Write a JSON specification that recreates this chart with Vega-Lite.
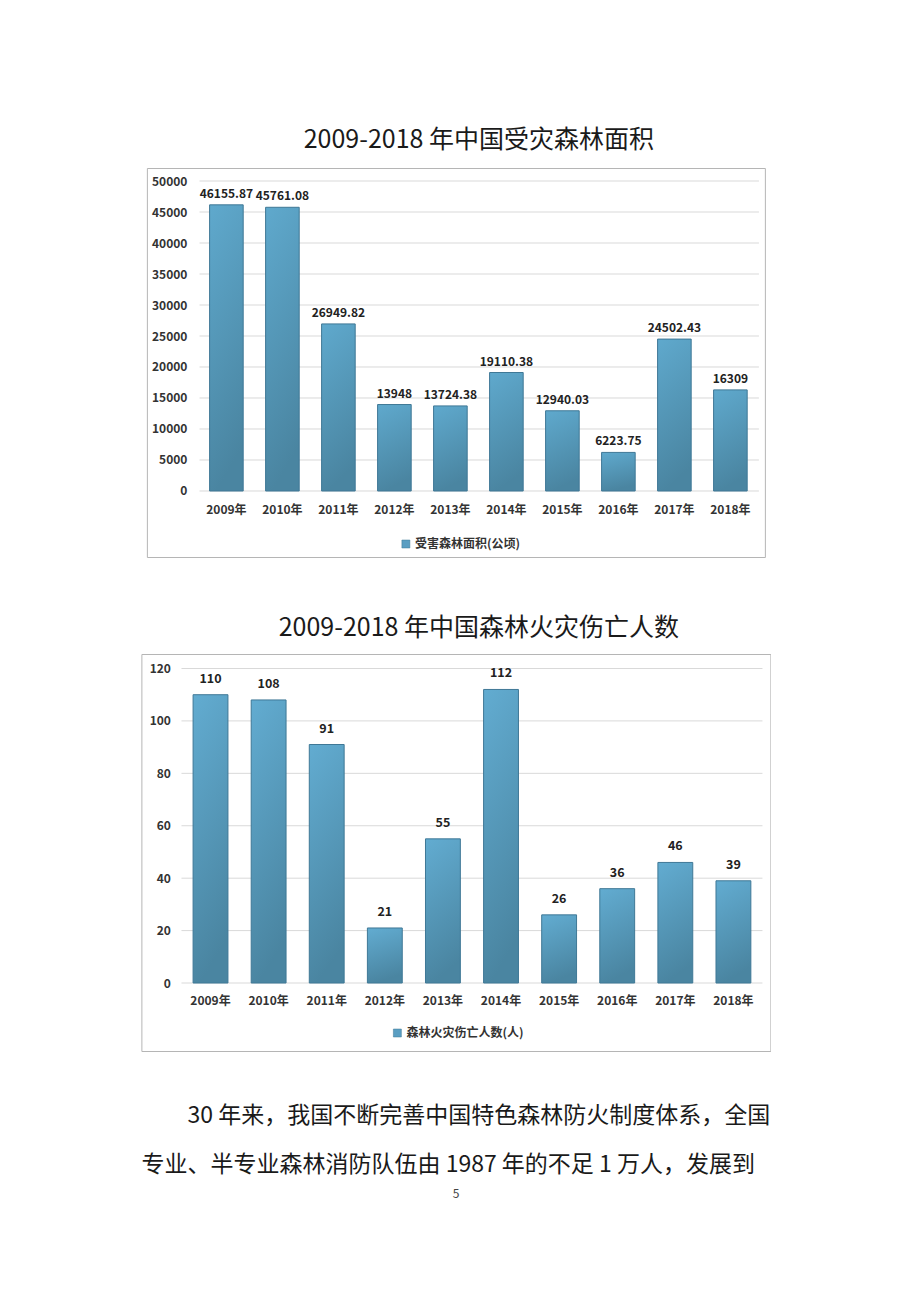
{
  "$schema": "https://vega.github.io/schema/vega-lite/v6.json",
  "background": "white",
  "padding": {"left": 140, "top": 127, "right": 0, "bottom": 0},
  "config": {
    "font": "Noto Sans CJK SC",
    "view": {"stroke": "#b5b5b5", "strokeWidth": 1},
    "title": {"font": "Noto Sans CJK SC", "fontSize": 25, "fontWeight": "normal", "color": "#1a1a1a", "dx": 23, "offset": 15},
    "axis": {"labelFont": "Noto Sans CJK SC", "labelFontSize": 12, "labelFontWeight": "bold", "labelColor": "#333333", "domain": false, "ticks": false, "grid": false, "title": null, "labelOverlap": false},
    "legend": {"labelFont": "Noto Sans CJK SC", "labelFontSize": 12, "labelFontWeight": "bold", "labelColor": "#333333"}
  },
  "resolve": {"scale": {"color": "independent"}, "legend": {"color": "independent"}},
  "vconcat": [
    {
      "resolve": {"scale": {"color": "independent"}, "legend": {"color": "independent"}},
      "spacing": 57,
      "center": true,
      "vconcat": [
        {
          "title": {"text": "2009-2018 年中国受灾森林面积"},
          "width": 618,
          "height": 389,
          "data": {"values": [
            {"year": "2009年", "area": 46155.87},
            {"year": "2010年", "area": 45761.08},
            {"year": "2011年", "area": 26949.82},
            {"year": "2012年", "area": 13948},
            {"year": "2013年", "area": 13724.38},
            {"year": "2014年", "area": 19110.38},
            {"year": "2015年", "area": 12940.03},
            {"year": "2016年", "area": 6223.75},
            {"year": "2017年", "area": 24502.43},
            {"year": "2018年", "area": 16309}
          ]},
          "layer": [
            {
              "data": {"values": [{"v": 0}, {"v": 5000}, {"v": 10000}, {"v": 15000}, {"v": 20000}, {"v": 25000}, {"v": 30000}, {"v": 35000}, {"v": 40000}, {"v": 45000}, {"v": 50000}]},
              "mark": {"type": "rule", "color": "#d9d9d9", "strokeWidth": 1},
              "encoding": {
                "y": {"field": "v", "type": "quantitative",
                      "scale": {"domain": [-10645.2, 52096.8], "nice": false, "zero": false},
                      "axis": {"values": [0, 5000, 10000, 15000, 20000, 25000, 30000, 35000, 40000, 45000, 50000], "format": "d", "offset": -40, "labelPadding": 0, "labelOverlap": false, "labelSeparation": 0, "labelFlush": false}},
                "x": {"datum": "2009年", "type": "nominal", "bandPosition": -0.3,
                      "scale": {"domain": ["2009年", "2010年", "2011年", "2012年", "2013年", "2014年", "2015年", "2016年", "2017年", "2018年"], "paddingInner": 0.4, "paddingOuter": 0.718, "align": 0.78},
                      "axis": {"offset": -66, "labelPadding": 13, "labelAngle": 0}},
                "x2": {"datum": "2018年", "bandPosition": 1.35}
              }
            },
            {
              "mark": {"type": "bar", "stroke": "#3f7896", "strokeWidth": 1,
                       "fill": {"gradient": "linear", "x1": 0, "y1": 0, "x2": 0.2, "y2": 1, "stops": [{"offset": 0, "color": "#5fa9cd"}, {"offset": 1, "color": "#4a85a1"}]}},
              "encoding": {
                "x": {"field": "year", "type": "nominal", "sort": null},
                "y": {"field": "area", "type": "quantitative", "axis": {"values": [0, 5000, 10000, 15000, 20000, 25000, 30000, 35000, 40000, 45000, 50000], "format": "d", "offset": -40, "labelPadding": 0, "labelOverlap": false, "labelSeparation": 0, "labelFlush": false}}
              }
            },
            {
              "mark": {"type": "text", "baseline": "bottom", "dy": -4, "fontSize": 12, "fontWeight": "bold", "color": "#222222"},
              "encoding": {
                "x": {"field": "year", "type": "nominal", "sort": null},
                "y": {"field": "area", "type": "quantitative", "axis": {"values": [0, 5000, 10000, 15000, 20000, 25000, 30000, 35000, 40000, 45000, 50000], "format": "d", "offset": -40, "labelPadding": 0, "labelOverlap": false, "labelSeparation": 0, "labelFlush": false}},
                "text": {"field": "area", "type": "quantitative"}
              }
            },
            {
              "data": {"values": []},
              "mark": {"type": "square"},
              "encoding": {
                "color": {"datum": "受害森林面积(公顷)", "type": "nominal",
                          "scale": {"range": ["#5a9ec2"]},
                          "legend": {"orient": "none", "legendX": 253, "legendY": 370, "title": null, "symbolType": "square", "symbolSize": 64, "symbolOpacity": 1, "symbolStrokeColor": "#3f7896", "symbolStrokeWidth": 0.5, "labelOffset": 3}}
              }
            }
          ]
        },
        {
          "title": {"text": "2009-2018 年中国森林火灾伤亡人数", "offset": 13},
          "width": 629,
          "height": 397,
          "data": {"values": [
            {"year": "2009年", "people": 110},
            {"year": "2010年", "people": 108},
            {"year": "2011年", "people": 91},
            {"year": "2012年", "people": 21},
            {"year": "2013年", "people": 55},
            {"year": "2014年", "people": 112},
            {"year": "2015年", "people": 26},
            {"year": "2016年", "people": 36},
            {"year": "2017年", "people": 46},
            {"year": "2018年", "people": 39}
          ]},
          "layer": [
            {
              "data": {"values": [{"v": 0}, {"v": 20}, {"v": 40}, {"v": 60}, {"v": 80}, {"v": 100}, {"v": 120}]},
              "mark": {"type": "rule", "color": "#d9d9d9", "strokeWidth": 1},
              "encoding": {
                "y": {"field": "v", "type": "quantitative",
                      "scale": {"domain": [-25.94, 125.53], "nice": false, "zero": false},
                      "axis": {"values": [0, 20, 40, 60, 80, 100, 120], "format": "d", "offset": -29, "labelPadding": 0}},
                "x": {"datum": "2009年", "type": "nominal", "bandPosition": -0.333,
                      "scale": {"domain": ["2009年", "2010年", "2011年", "2012年", "2013年", "2014年", "2015年", "2016年", "2017年", "2018年"], "paddingInner": 0.4, "paddingOuter": 0.613, "align": 0.726},
                      "axis": {"offset": -68, "labelPadding": 12, "labelAngle": 0}},
                "x2": {"datum": "2018年", "bandPosition": 1.333}
              }
            },
            {
              "mark": {"type": "bar", "stroke": "#3f7896", "strokeWidth": 1,
                       "fill": {"gradient": "linear", "x1": 0, "y1": 0, "x2": 0.2, "y2": 1, "stops": [{"offset": 0, "color": "#62acd1"}, {"offset": 1, "color": "#4a85a1"}]}},
              "encoding": {
                "x": {"field": "year", "type": "nominal", "sort": null},
                "y": {"field": "people", "type": "quantitative"}
              }
            },
            {
              "mark": {"type": "text", "baseline": "bottom", "dy": -9, "fontSize": 12.5, "fontWeight": "bold", "color": "#222222"},
              "encoding": {
                "x": {"field": "year", "type": "nominal", "sort": null},
                "y": {"field": "people", "type": "quantitative"},
                "text": {"field": "people", "type": "quantitative"}
              }
            },
            {
              "data": {"values": []},
              "mark": {"type": "square"},
              "encoding": {
                "color": {"datum": "森林火灾伤亡人数(人)", "type": "nominal",
                          "scale": {"range": ["#5a9ec2"]},
                          "legend": {"orient": "none", "legendX": 250, "legendY": 373, "title": null, "symbolType": "square", "symbolSize": 64, "symbolOpacity": 1, "symbolStrokeColor": "#3f7896", "symbolStrokeWidth": 0.5, "labelOffset": 3}}
              }
            }
          ]
        }
      ]
    },
    {
      "title": {"text": ["\u200b\u3000\u300030 年来，我国不断完善中国特色森林防火制度体系，全国", "专业、半专业森林消防队伍由 1987 年的不足 1 万人，发展到"], "anchor": "start", "dx": 0, "fontSize": 23, "lineHeight": 49, "offset": 9, "color": "#1a1a1a"},
      "width": 629,
      "height": 16,
      "view": {"stroke": null},
      "data": {"values": [{"page": "5"}]},
      "mark": {"type": "text", "fontSize": 12, "color": "#444444", "font": "Noto Sans CJK SC"},
      "encoding": {"text": {"field": "page", "type": "nominal"}}
    }
  ],
  "spacing": 53,
  "center": true
}
